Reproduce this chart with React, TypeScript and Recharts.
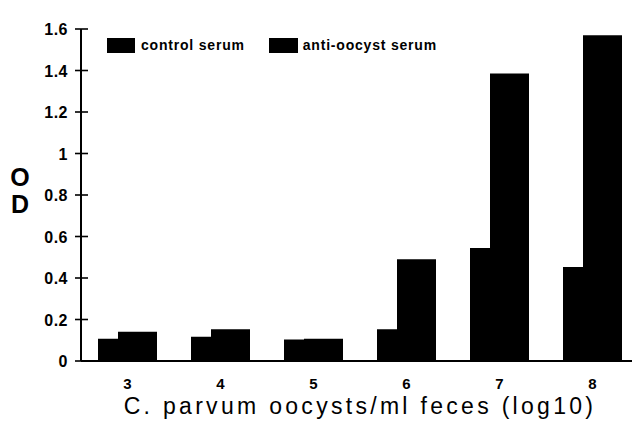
import React from "react";
import { BarChart, Bar, XAxis, YAxis, Legend } from "recharts";

const categories = ["3", "4", "5", "6", "7", "8"];
const controlSerum = [0.107, 0.117, 0.104, 0.153, 0.545, 0.453];
const antiOocystSerum = [0.141, 0.153, 0.107, 0.49, 1.386, 1.57];
const yTicks = [0, 0.2, 0.4, 0.6, 0.8, 1, 1.2, 1.4, 1.6];
const yTickLabels = ["0", "0.2", "0.4", "0.6", "0.8", "1", "1.2", "1.4", "1.6"];

const data = categories.map((c, i) => ({
  name: c,
  control: controlSerum[i],
  anti: antiOocystSerum[i],
}));

const FONT = "'Liberation Sans', Arial, sans-serif";

// label plus a tick mark crossing the axis (label anchor sits 13px left of the axis)
const YTick = (props: any) => {
  const { x, y, payload } = props;
  const idx = yTicks.indexOf(payload.value);
  return (
    <g>
      <path d={`M${x + 7},${y}H${x + 20}`} stroke="#000" strokeWidth={1.6} fill="none" />
      <text
        x={x}
        y={y}
        dy={6}
        textAnchor="end"
        fontFamily={FONT}
        fontWeight="bold"
        fontSize={16}
        letterSpacing={0.5}
        fill="#000"
      >
        {idx >= 0 ? yTickLabels[idx] : payload.value}
      </text>
    </g>
  );
};

const XTick = (props: any) => {
  const { x, y, payload } = props;
  return (
    <text
      x={x}
      y={y}
      dy={20}
      textAnchor="middle"
      fontFamily={FONT}
      fontWeight="bold"
      fontSize={15}
      fill="#000"
    >
      {payload.value}
    </text>
  );
};

const ODLabel = () => (
  <g fontFamily={FONT} fontWeight="bold" fontSize={25} fill="#000">
    <text x={20} y={186} textAnchor="middle">O</text>
    <text x={20} y={213} textAnchor="middle">D</text>
  </g>
);

const LegendContent = () => (
  <div style={{ display: "flex", alignItems: "center", fontFamily: FONT, fontWeight: "bold", fontSize: 14, letterSpacing: 0.8 }}>
    <span style={{ display: "inline-block", width: 28, height: 15, background: "#000", marginRight: 6 }} />
    <span style={{ marginRight: 24 }}>control serum</span>
    <span style={{ display: "inline-block", width: 29, height: 15, background: "#000", marginRight: 5 }} />
    <span>anti-oocyst serum</span>
  </div>
);

export default function App() {
  return (
    <div style={{ position: "absolute", left: 0, top: 0, width: 632, height: 425, overflow: "hidden", background: "#fff" }}>
      <BarChart
        width={650}
        height={425}
        data={data}
        margin={{ top: 13, right: 11, bottom: 34, left: 21 }}
        barCategoryGap={17}
        barGap={-19}
      >
        <XAxis
          dataKey="name"
          tick={XTick}
          tickLine={false}
          axisLine={{ stroke: "#000", strokeWidth: 2 }}
          height={30}
          label={{
            value: "C. parvum oocysts/ml feces (log10)",
            position: "insideBottom",
            offset: -23,
            fontFamily: FONT,
            fontSize: 23,
            letterSpacing: 3.3,
            fill: "#000",
            dx: 0,
          }}
        />
        <YAxis
          type="number"
          domain={[0, 1.6]}
          ticks={yTicks}
          width={60}
          tick={YTick}
          tickLine={false}
          tickSize={6}
          tickMargin={7}
          axisLine={{ stroke: "#000", strokeWidth: 2 }}
          label={{ content: ODLabel }}
        />
        <Legend
          verticalAlign="top"
          align="left"
          content={LegendContent}
          wrapperStyle={{ top: 37, left: 107, width: "auto" }}
        />
        <Bar dataKey="control" fill="#000" barSize={39} isAnimationActive={false} />
        <Bar dataKey="anti" fill="#000" barSize={39} isAnimationActive={false} />
      </BarChart>
    </div>
  );
}
